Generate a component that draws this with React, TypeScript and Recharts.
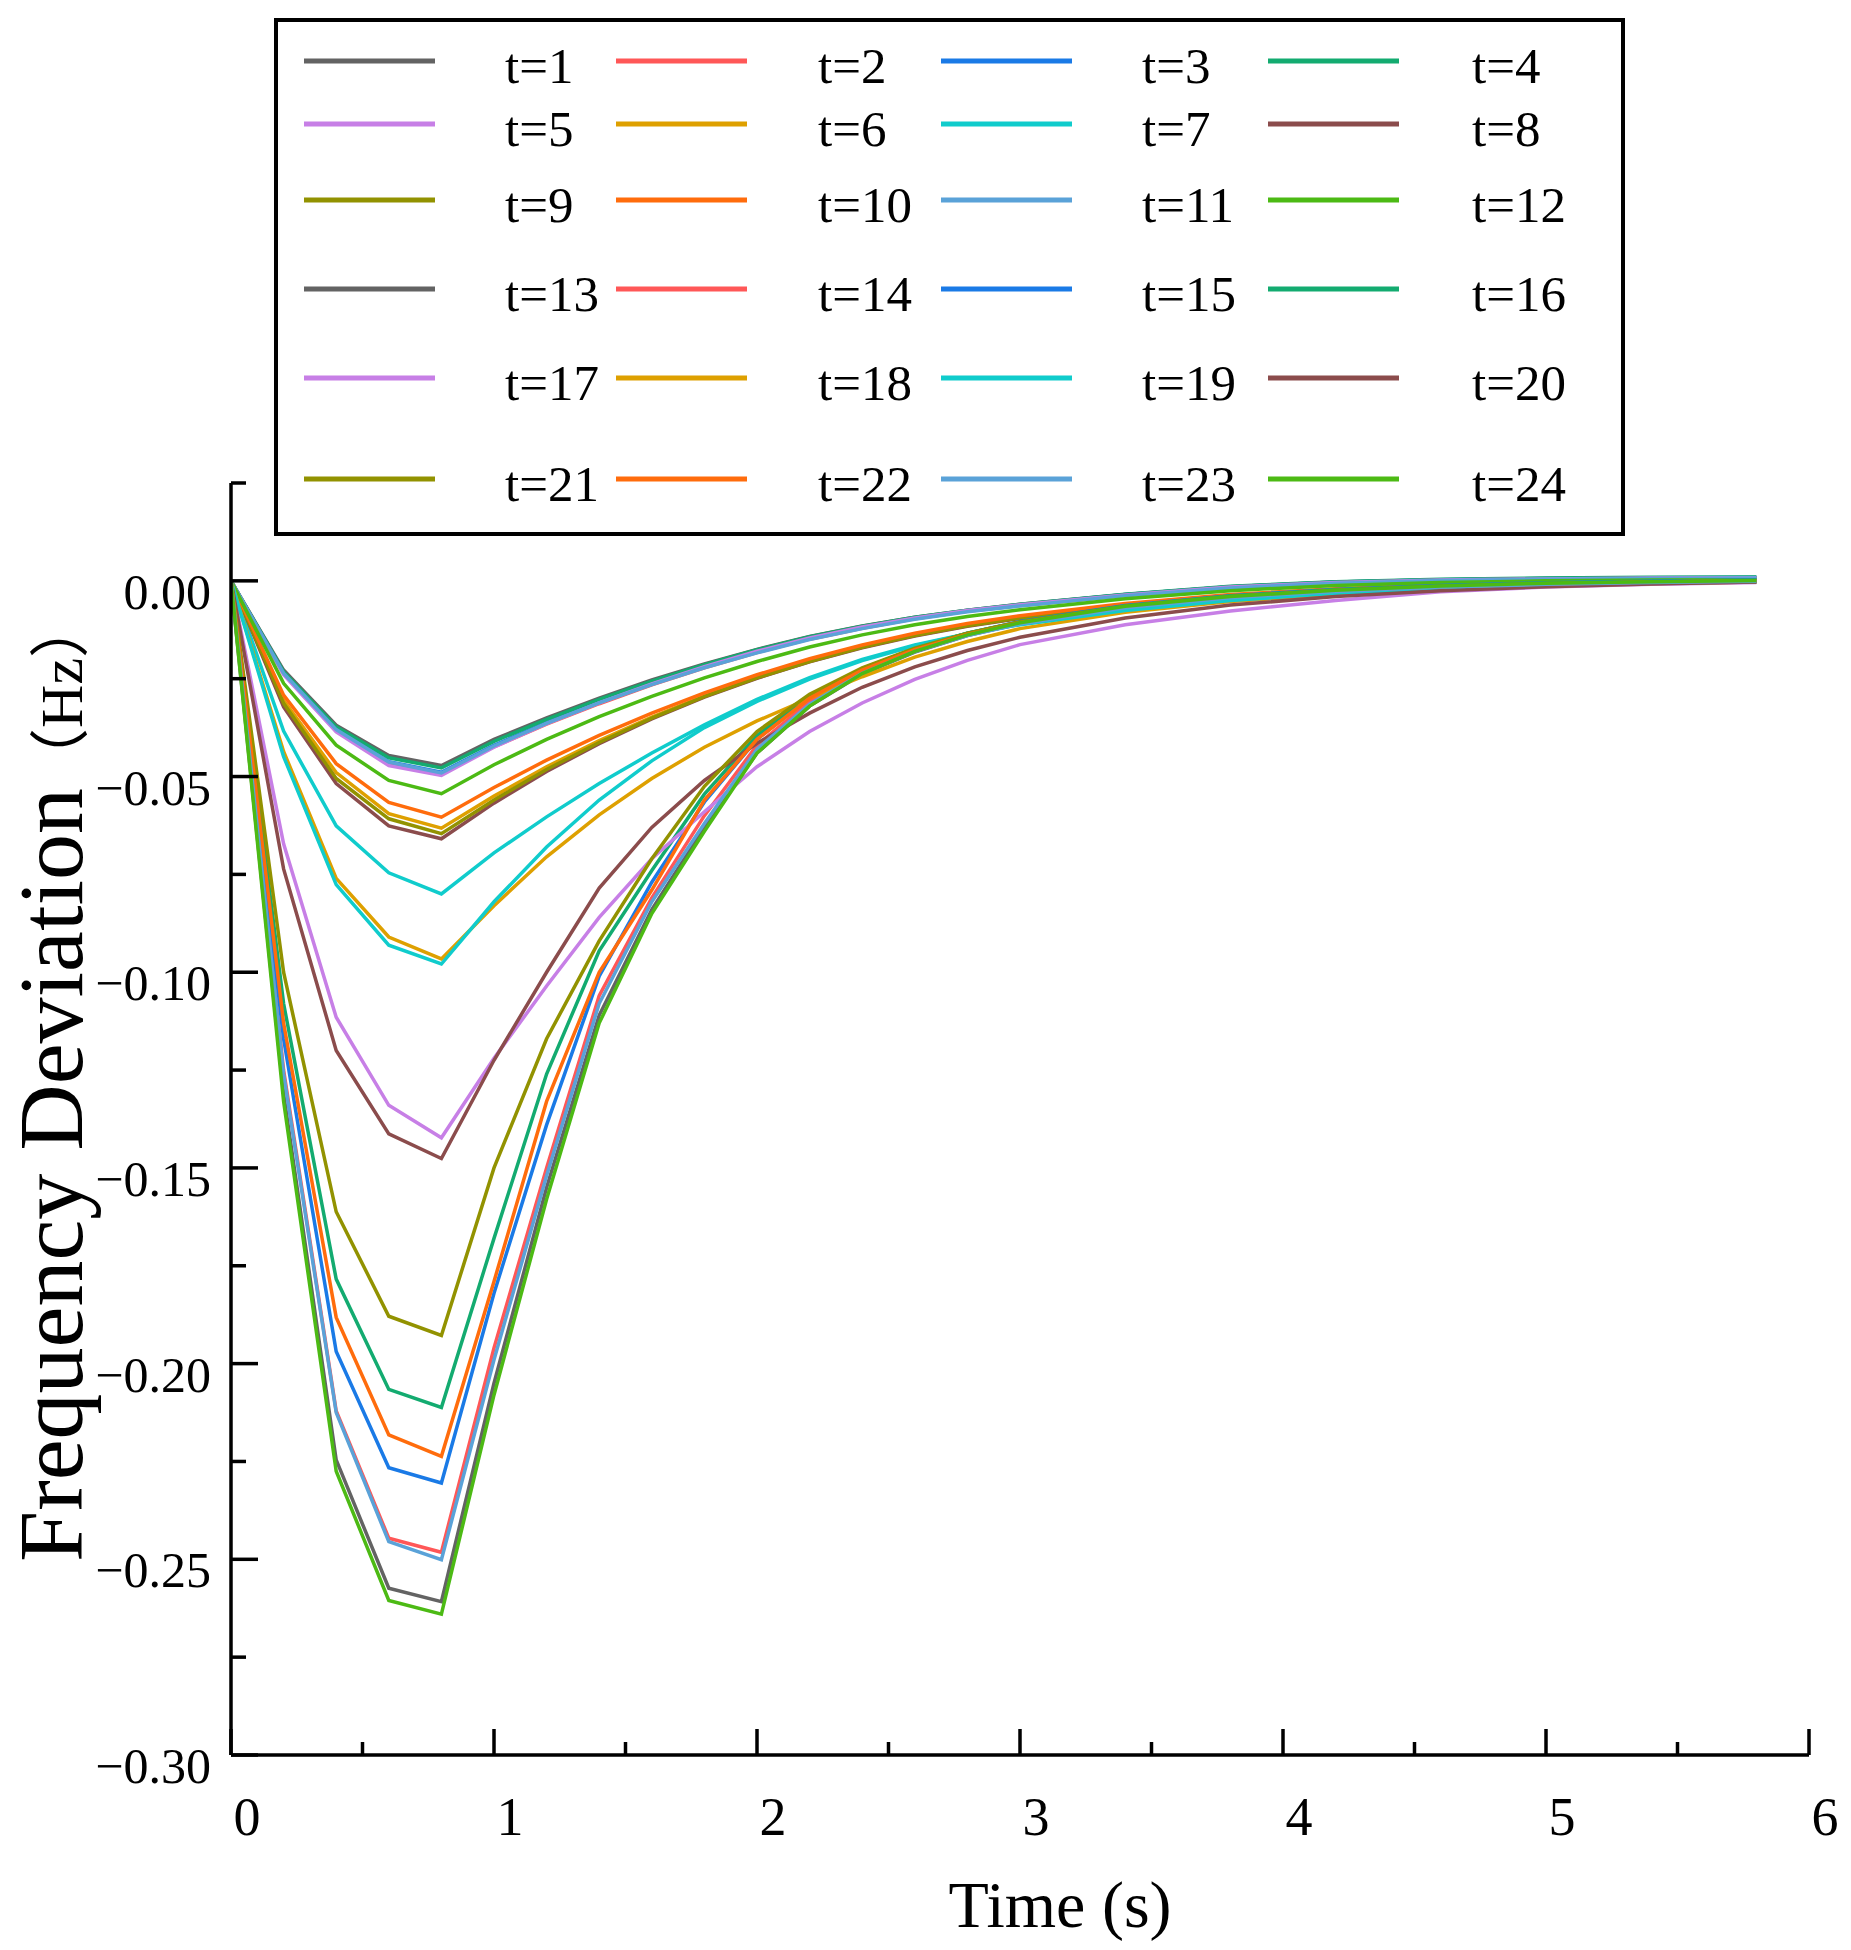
import React from 'react';
import { LineChart, Line, XAxis, YAxis, Legend } from 'recharts';

const TIMES = [0, 0.2, 0.4, 0.6, 0.8, 1.0, 1.2, 1.4, 1.6, 1.8, 2.0, 2.2, 2.4, 2.6, 2.8, 3.0, 3.4, 3.8, 4.2, 4.6, 5.0, 5.4, 5.8];

const T1 = [0, -0.0228, -0.0369, -0.0446, -0.0472, -0.0405, -0.035, -0.03, -0.0253, -0.0212, -0.0175, -0.0142, -0.0115, -0.0093, -0.0075, -0.006, -0.0035, -0.0015, -0.0003, 0.0003, 0.0006, 0.0008, 0.0008];
const T2 = [0, -0.0238, -0.0383, -0.0466, -0.0493, -0.0424, -0.0366, -0.0314, -0.0266, -0.0222, -0.0183, -0.0149, -0.0121, -0.0097, -0.0078, -0.0063, -0.0037, -0.0017, -0.0005, 0.0002, 0.0005, 0.0007, 0.0008];
const T3 = [0, -0.0236, -0.038, -0.0462, -0.0489, -0.042, -0.0362, -0.031, -0.0262, -0.0219, -0.018, -0.0146, -0.0118, -0.0095, -0.0076, -0.0061, -0.0035, -0.0015, -0.0003, 0.0003, 0.0006, 0.0008, 0.0009];
const T4 = [0, -0.0232, -0.0373, -0.0452, -0.0478, -0.041, -0.0354, -0.0303, -0.0256, -0.0214, -0.0176, -0.0143, -0.0116, -0.0093, -0.0075, -0.006, -0.0034, -0.0014, -0.0002, 0.0004, 0.0007, 0.0009, 0.001];
const T5 = [0, -0.024, -0.0386, -0.0472, -0.0497, -0.0425, -0.0365, -0.0312, -0.0263, -0.0219, -0.018, -0.0146, -0.0118, -0.0095, -0.0076, -0.0061, -0.0036, -0.0016, -0.0004, 0.0002, 0.0005, 0.0007, 0.0008];
const T6 = [0, -0.0305, -0.049, -0.0595, -0.0632, -0.055, -0.0475, -0.0408, -0.0348, -0.0294, -0.0246, -0.0204, -0.0168, -0.0138, -0.0113, -0.0093, -0.0062, -0.004, -0.0025, -0.0015, -0.0008, -0.0004, -0.0001];
const T7 = [0, -0.0384, -0.0626, -0.0746, -0.08, -0.0695, -0.0603, -0.0518, -0.044, -0.0368, -0.0303, -0.0247, -0.0201, -0.0164, -0.0135, -0.0111, -0.0075, -0.0049, -0.0031, -0.0019, -0.0011, -0.0005, -0.0002];
const T8 = [0, -0.0322, -0.0518, -0.0626, -0.0659, -0.0568, -0.0487, -0.0416, -0.0353, -0.0297, -0.0249, -0.0207, -0.0171, -0.0141, -0.0116, -0.0096, -0.0065, -0.0043, -0.0028, -0.0017, -0.001, -0.0005, -0.0002];
const T9 = [0, -0.0313, -0.0505, -0.0608, -0.0646, -0.056, -0.0482, -0.0413, -0.0351, -0.0296, -0.0248, -0.0206, -0.017, -0.014, -0.0115, -0.0095, -0.0064, -0.0042, -0.0027, -0.0016, -0.0009, -0.0004, -0.0001];
const T10 = [0, -0.0292, -0.0467, -0.0566, -0.0604, -0.0528, -0.0458, -0.0395, -0.0338, -0.0286, -0.024, -0.0199, -0.0164, -0.0134, -0.0109, -0.0089, -0.0058, -0.0035, -0.002, -0.001, -0.0004, 0, 0.0002];
const T11 = [0, -0.0236, -0.038, -0.0463, -0.0491, -0.0422, -0.0364, -0.0312, -0.0265, -0.0222, -0.0184, -0.015, -0.0122, -0.0098, -0.0079, -0.0064, -0.0038, -0.0018, -0.0006, 0.0001, 0.0004, 0.0006, 0.0007];
const T12 = [0, -0.0262, -0.042, -0.051, -0.0544, -0.047, -0.0405, -0.0347, -0.0295, -0.0248, -0.0206, -0.0169, -0.0138, -0.0112, -0.0091, -0.0074, -0.0046, -0.0025, -0.0012, -0.0004, 0, 0.0002, 0.0003];
const T13 = [0, -0.131, -0.2246, -0.2574, -0.2608, -0.205, -0.155, -0.111, -0.084, -0.063, -0.044, -0.032, -0.0238, -0.0182, -0.014, -0.0109, -0.0067, -0.0041, -0.0025, -0.0014, -0.0007, -0.0003, 0];
const T14 = [0, -0.125, -0.2121, -0.2446, -0.2482, -0.196, -0.15, -0.106, -0.081, -0.06, -0.042, -0.0308, -0.0232, -0.0178, -0.0138, -0.0108, -0.0067, -0.0042, -0.0026, -0.0016, -0.0009, -0.0004, -0.0001];
const T15 = [0, -0.117, -0.1969, -0.2266, -0.2305, -0.182, -0.139, -0.101, -0.077, -0.0565, -0.0405, -0.0298, -0.0225, -0.0173, -0.0134, -0.0104, -0.0063, -0.0038, -0.0022, -0.0012, -0.0005, -0.0001, 0.0002];
const T16 = [0, -0.108, -0.1784, -0.2066, -0.2112, -0.168, -0.126, -0.0945, -0.074, -0.0545, -0.0395, -0.0294, -0.0224, -0.0173, -0.0134, -0.0105, -0.0064, -0.0039, -0.0023, -0.0013, -0.0006, -0.0002, 0.0001];
const T17 = [0, -0.0672, -0.1115, -0.134, -0.1423, -0.122, -0.1035, -0.086, -0.071, -0.059, -0.0475, -0.0385, -0.0312, -0.0252, -0.0203, -0.0163, -0.0112, -0.0077, -0.005, -0.0028, -0.0016, -0.0009, -0.0004];
const T18 = [0, -0.0436, -0.076, -0.091, -0.0966, -0.083, -0.0705, -0.0598, -0.0505, -0.0425, -0.0358, -0.03, -0.0245, -0.0195, -0.0155, -0.0122, -0.008, -0.0053, -0.0035, -0.0022, -0.0013, -0.0007, -0.0003];
const T19 = [0, -0.0449, -0.0776, -0.0931, -0.0979, -0.082, -0.068, -0.056, -0.046, -0.0375, -0.0308, -0.0251, -0.0204, -0.0166, -0.0136, -0.0112, -0.0076, -0.005, -0.0032, -0.002, -0.0012, -0.0006, -0.0002];
const T20 = [0, -0.0736, -0.12, -0.1413, -0.1476, -0.1225, -0.1, -0.0785, -0.063, -0.051, -0.0415, -0.0338, -0.0272, -0.022, -0.0178, -0.0144, -0.0095, -0.0062, -0.004, -0.0025, -0.0015, -0.0008, -0.0003];
const T21 = [0, -0.1, -0.1612, -0.1879, -0.1928, -0.15, -0.117, -0.092, -0.071, -0.0525, -0.0385, -0.029, -0.0222, -0.0172, -0.0134, -0.0105, -0.0065, -0.004, -0.0024, -0.0014, -0.0007, -0.0003, 0];
const T22 = [0, -0.113, -0.1882, -0.2182, -0.2237, -0.179, -0.133, -0.1, -0.079, -0.056, -0.0405, -0.03, -0.0228, -0.0176, -0.0137, -0.0107, -0.0066, -0.0041, -0.0025, -0.0015, -0.0008, -0.0003, 0];
const T23 = [0, -0.126, -0.2125, -0.2455, -0.2501, -0.199, -0.152, -0.108, -0.082, -0.062, -0.043, -0.0315, -0.0236, -0.0181, -0.014, -0.011, -0.0069, -0.0043, -0.0027, -0.0016, -0.0009, -0.0004, -0.0001];
const T24 = [0, -0.133, -0.2275, -0.2605, -0.264, -0.208, -0.158, -0.113, -0.085, -0.064, -0.044, -0.032, -0.0237, -0.018, -0.0138, -0.0107, -0.0065, -0.004, -0.0024, -0.0013, -0.0006, -0.0002, 0.0001];

const SERIES = [T1, T2, T3, T4, T5, T6, T7, T8, T9, T10, T11, T12, T13, T14, T15, T16, T17, T18, T19, T20, T21, T22, T23, T24];
const SERIES_NAMES = ['t=1', 't=2', 't=3', 't=4', 't=5', 't=6', 't=7', 't=8', 't=9', 't=10', 't=11', 't=12', 't=13', 't=14', 't=15', 't=16', 't=17', 't=18', 't=19', 't=20', 't=21', 't=22', 't=23', 't=24'];
const PALETTE = ['#636363', '#ff5757', '#1a7ae6', '#13ab70', '#c77fe6', '#dea000', '#10cccc', '#8b4c4c', '#929200', '#ff6c0c', '#5aa2d8', '#4cba14'];

const X_TICKS = [0, 0.5, 1, 1.5, 2, 2.5, 3, 3.5, 4, 4.5, 5, 5.5, 6];
const Y_TICKS = [-0.3, -0.275, -0.25, -0.225, -0.2, -0.175, -0.15, -0.125, -0.1, -0.075, -0.05, -0.025, 0, 0.025];

const data = TIMES.map((t, i) => {
  const row: Record<string, number> = { time: t };
  SERIES.forEach((s, k) => {
    row[SERIES_NAMES[k]] = s[i];
  });
  return row;
});

const SERIF = "'Liberation Serif', 'Times New Roman', serif";

const XTick = (props: any) => {
  const { x, y, payload } = props;
  const v = payload.value;
  const major = Math.abs(v - Math.round(v)) < 1e-6;
  return (
    <g>
      <line x1={x} y1={y} x2={x} y2={y - (major ? 26 : 13)} stroke="#000" strokeWidth={3.5} />
      {major && (
        <text x={x + 16} y={y + 80} textAnchor="middle" fontFamily={SERIF} fontSize={54} fill="#000">
          {String(v)}
        </text>
      )}
    </g>
  );
};

const YTick = (props: any) => {
  const { x, y, payload } = props;
  const v = payload.value;
  const major = Math.abs(v / 0.05 - Math.round(v / 0.05)) < 1e-6;
  const label = Math.abs(v) < 1e-9 ? '0.00' : (v < 0 ? '\u2212' : '') + Math.abs(v).toFixed(2);
  return (
    <g>
      <line x1={x} y1={y} x2={x + (major ? 27 : 15)} y2={y} stroke="#000" strokeWidth={3.5} />
      {major && (
        <text x={x - 20} y={y + 28} textAnchor="end" fontFamily={SERIF} fontSize={50} fill="#000">
          {label}
        </text>
      )}
    </g>
  );
};

const XTitle = () => (
  <text x={1060} y={1927} textAnchor="middle" fontFamily={SERIF} fontSize={66} fill="#000">
    Time (s)
  </text>
);

const YTitle = () => (
  <text
    x={82}
    y={1080}
    transform="rotate(-90 82 1080)"
    textAnchor="middle"
    fontFamily={SERIF}
    fontSize={92}
    fill="#000"
  >
    Frequency Deviation
    <tspan fontSize={60} fontFamily="'Noto Sans CJK SC', 'Liberation Serif', serif">（</tspan>
    <tspan fontSize={60} fontFamily={SERIF}>Hz</tspan>
    <tspan fontSize={60} fontFamily="'Noto Sans CJK SC', 'Liberation Serif', serif">）</tspan>
  </text>
);

const ROW_Y = [43, 106, 182, 271, 360, 461];
const LINE_X = [30, 342, 667, 994];
const TEXT_X = [231, 544, 868, 1198];

const LegendBox = () => (
  <svg width={1351} height={518} style={{ display: 'block' }}>
    <rect x={2} y={2} width={1347} height={514} fill="#fff" stroke="#000" strokeWidth={4} />
    {SERIES_NAMES.map((name, i) => {
      const r = Math.floor(i / 4);
      const c = i % 4;
      const cy = ROW_Y[r];
      return (
        <g key={name}>
          <line x1={LINE_X[c]} y1={cy} x2={LINE_X[c] + 131} y2={cy} stroke={PALETTE[i % 12]} strokeWidth={5} />
          <text x={TEXT_X[c]} y={cy + 22} fontFamily={SERIF} fontSize={51} fill="#000">
            {name}
          </text>
        </g>
      );
    })}
  </svg>
);

export default function App() {
  return (
    <div style={{ position: 'absolute', left: 0, top: 0, width: 1851, height: 1950, background: '#fff' }}>
      <LineChart
        width={1851}
        height={1950}
        data={data}
        margin={{ top: 483, right: 42, bottom: 135, left: 81 }}
      >
        <XAxis
          dataKey="time"
          type="number"
          domain={[0, 6]}
          ticks={X_TICKS}
          interval={0}
          allowDataOverflow
          height={60}
          tickLine={false}
          tickSize={0}
          tickMargin={0}
          axisLine={{ stroke: '#000', strokeWidth: 3.5 }}
          tick={<XTick />}
          label={<XTitle />}
        />
        <YAxis
          type="number"
          domain={[-0.3, 0.025]}
          ticks={Y_TICKS}
          interval={0}
          allowDataOverflow
          width={150}
          tickLine={false}
          tickSize={0}
          tickMargin={0}
          axisLine={{ stroke: '#000', strokeWidth: 3.5 }}
          tick={<YTick />}
          label={<YTitle />}
        />
        <Legend
          layout="horizontal"
          verticalAlign="middle"
          align="center"
          content={() => <LegendBox />}
          wrapperStyle={{ position: 'absolute', left: 274, top: 18, width: 1351, height: 518 }}
        />
        {SERIES_NAMES.map((name, i) => (
          <Line
            key={name}
            type="linear"
            dataKey={name}
            stroke={PALETTE[i % 12]}
            strokeWidth={3.5}
            dot={false}
            activeDot={false}
            isAnimationActive={false}
          />
        ))}
      </LineChart>
    </div>
  );
}
